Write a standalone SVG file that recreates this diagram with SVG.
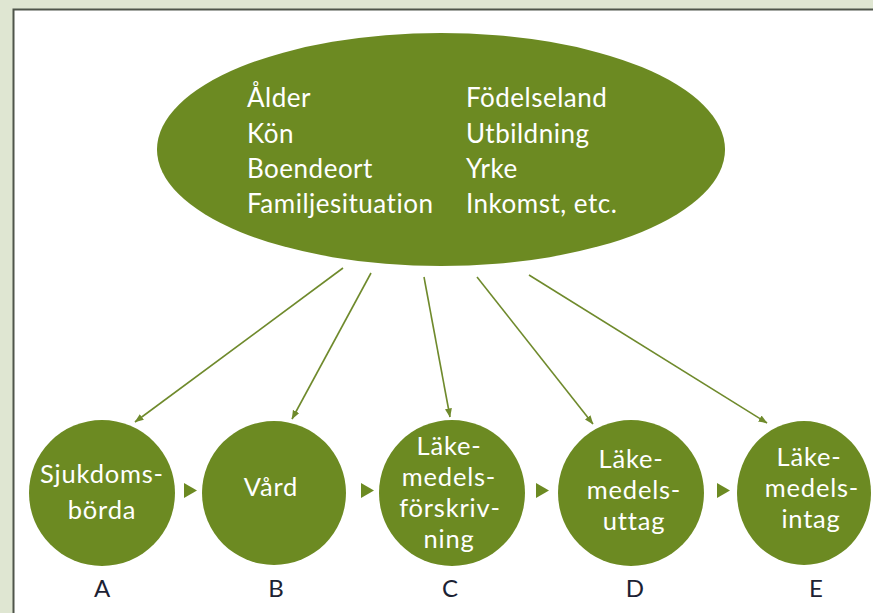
<svg xmlns="http://www.w3.org/2000/svg" width="873" height="613" viewBox="0 0 873 613">
<defs>
<style>
.bg{fill:#dfe6d2}
.panel{fill:#ffffff;stroke:#4f554a;stroke-width:2}
.node{fill:#6c8a22}
.t{font-family:Lato,"Open Sans","Liberation Sans",sans-serif;fill:#ffffff}
.big{font-size:26px;letter-spacing:0.5px}
.ct{font-size:25.5px;letter-spacing:0.8px;text-anchor:middle}
.lbl{font-family:Lato,"Open Sans","Liberation Sans",sans-serif;font-size:24px;fill:#1c2233;text-anchor:middle}
.conn line{stroke:#6f8a2c;stroke-width:1.6;marker-end:url(#ah)}
.step{fill:#6c8a22}
</style>
<marker id="ah" markerUnits="userSpaceOnUse" markerWidth="9" markerHeight="8" refX="8.5" refY="3.5" orient="auto">
<path d="M0,0 L9,3.5 L0,7 z" fill="#6f8a2c"/>
</marker>
</defs>
<rect class="bg" x="0" y="0" width="873" height="613"/>
<rect class="panel" x="13.5" y="9.5" width="900" height="700"/>

<g id="factors">
<ellipse class="node" cx="441" cy="149.5" rx="284" ry="116.5"/>
<text class="t big" x="247" y="107">Ålder</text>
<text class="t big" x="247" y="143">Kön</text>
<text class="t big" x="247" y="178">Boendeort</text>
<text class="t big" x="247" y="213">Familjesituation</text>
<text class="t big" x="466" y="107">Födelseland</text>
<text class="t big" x="466" y="143">Utbildning</text>
<text class="t big" x="466" y="178">Yrke</text>
<text class="t big" x="466" y="213">Inkomst, etc.</text>
</g>

<g class="conn" id="connectors">
<line x1="343" y1="268" x2="135" y2="422"/>
<line x1="371" y1="273" x2="292" y2="419"/>
<line x1="424" y1="277" x2="450" y2="417"/>
<line x1="477" y1="277" x2="593" y2="424"/>
<line x1="529" y1="275" x2="767" y2="423"/>
<polygon class="step" points="184,483 184,498 197,490.5"/>
<polygon class="step" points="361,483 361,498 374,490.5"/>
<polygon class="step" points="536,483 536,498 549,490.5"/>
<polygon class="step" points="717,483 717,498 730,490.5"/>
</g>

<g id="A">
<circle class="node" cx="102" cy="493" r="73"/>
<text class="t ct" x="102" y="483">Sjukdoms-</text>
<text class="t ct" x="102" y="519">börda</text>
<text class="lbl" x="102" y="597">A</text>
</g>

<g id="B">
<circle class="node" cx="274" cy="493" r="72"/>
<text class="t ct" x="271" y="496">Vård</text>
<text class="lbl" x="276" y="597">B</text>
</g>

<g id="C">
<circle class="node" cx="452" cy="493" r="73"/>
<text class="t ct" x="449" y="455">Läke-</text>
<text class="t ct" x="449" y="486">medels-</text>
<text class="t ct" x="450" y="517">förskriv-</text>
<text class="t ct" x="449" y="548">ning</text>
<text class="lbl" x="450" y="597">C</text>
</g>

<g id="D">
<circle class="node" cx="631" cy="493" r="73"/>
<text class="t ct" x="631" y="468">Läke-</text>
<text class="t ct" x="634" y="499">medels-</text>
<text class="t ct" x="634" y="530">uttag</text>
<text class="lbl" x="635" y="597">D</text>
</g>

<g id="E">
<ellipse class="node" cx="804" cy="493" rx="67" ry="72"/>
<text class="t ct" x="809" y="466">Läke-</text>
<text class="t ct" x="812" y="497">medels-</text>
<text class="t ct" x="811" y="528">intag</text>
<text class="lbl" x="816" y="597">E</text>
</g>
</svg>
